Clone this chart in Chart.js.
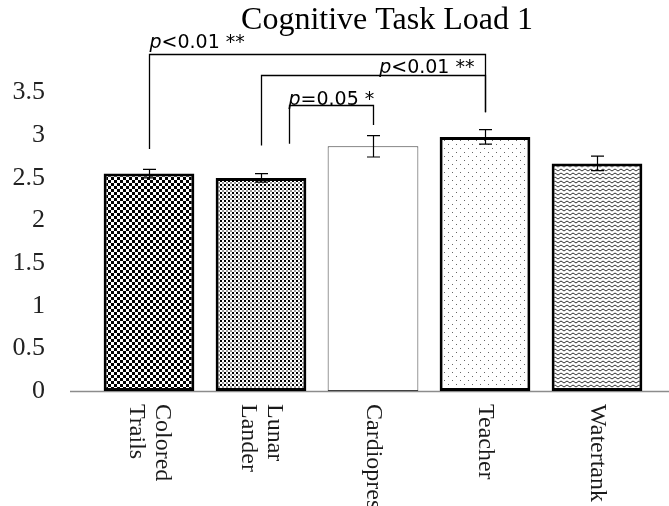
<!DOCTYPE html>
<html>
<head>
<meta charset="utf-8">
<script src="https://cdn.jsdelivr.net/npm/chart.js@4/dist/chart.umd.min.js"></script>
<style>
  html, body { margin: 0; padding: 0; background: #fff; }
  #wrap { width: 669px; height: 506px; position: relative; }
</style>
</head>
<body>
<div id="wrap"><canvas id="chart"></canvas></div>
<script>
// --- DATA ---
const categories = [['Colored', 'Trails'], ['Lunar', 'Lander'], 'Cardiopres', 'Teacher', 'Watertank'];
const means = [2.55, 2.50, 2.87, 2.98, 2.67];
const errors = [0.05, 0.05, 0.125, 0.085, 0.085];
const yTicks = [0, 0.5, 1, 1.5, 2, 2.5, 3, 3.5];

// significance brackets (category index, y value in data units)
const bracketFrom = [0, 1, 1.25];
const bracketTo = [3, 3, 2];
const bracketTop = [3.95, 3.71, 3.36];
const footFrom = [2.84, 2.88, 2.90];
const footTo = [3.27, 3.27, 3.12];
const bracketText = ['<0.01 **', '<0.01 **', '=0.05 *'];
// --- END DATA ---

// --- FILL PATTERNS ---
function makePattern(w, h, draw) {
    const c = document.createElement('canvas');
    c.width = w; c.height = h;
    const g = c.getContext('2d');
    g.fillStyle = '#fff';
    g.fillRect(0, 0, w, h);
    draw(g);
    return document.createElement('canvas').getContext('2d').createPattern(c, 'repeat');
}

const checker = makePattern(6, 6, g => {
    g.fillStyle = '#000';
    g.fillRect(0, 0, 3, 3);
    g.fillRect(3, 3, 3, 3);
});
const denseDots = makePattern(4, 4, g => {
    g.fillStyle = '#000';
    g.fillRect(0, 0, 2, 2);
    g.fillStyle = '#999';
    g.fillRect(2, 2, 2, 2);
});
const sparseDots = makePattern(8, 8, g => {
    g.fillStyle = '#666';
    g.fillRect(0, 0, 1, 1);
    g.fillRect(4, 4, 1, 1);
});
const zigzag = makePattern(6, 4, g => {
    g.strokeStyle = '#333';
    g.lineWidth = 1;
    g.beginPath();
    g.moveTo(0, 3); g.lineTo(3, 1); g.lineTo(6, 3);
    g.stroke();
});

// --- OVERLAY: axis line, error bars, brackets, labels, title ---
const overlay = {
    id: 'overlay',
    beforeDatasetsDraw(chart) {
        const { ctx, chartArea, scales: { y } } = chart;
        const y0 = Math.round(y.getPixelForValue(0)) + 0.5;
        ctx.save();
        ctx.strokeStyle = '#8c8c8c';
        ctx.lineWidth = 1.5;
        ctx.beginPath();
        ctx.moveTo(chartArea.left - 23, y0);
        ctx.lineTo(chart.width, y0);
        ctx.stroke();
        ctx.restore();
    },
    afterDatasetsDraw(chart) {
        const { ctx, scales: { x, y } } = chart;
        ctx.save();

        // error bars
        ctx.strokeStyle = '#000';
        ctx.lineWidth = 1.2;
        means.forEach((m, i) => {
            const cx = Math.round(x.getPixelForValue(i)) + 0.5;
            const top = y.getPixelForValue(m + errors[i]);
            const bot = y.getPixelForValue(m - errors[i]);
            ctx.beginPath();
            ctx.moveTo(cx, top); ctx.lineTo(cx, bot);
            ctx.moveTo(cx - 6.5, top); ctx.lineTo(cx + 6.5, top);
            ctx.moveTo(cx - 6.5, bot); ctx.lineTo(cx + 6.5, bot);
            ctx.stroke();
        });

        // brackets
        ctx.lineWidth = 1.3;
        bracketText.forEach((txt, i) => {
            const xl = Math.round(x.getPixelForValue(bracketFrom[i])) + 0.5;
            const xr = Math.round(x.getPixelForValue(bracketTo[i])) + 0.5;
            const yt = Math.round(y.getPixelForValue(bracketTop[i])) + 0.5;
            ctx.beginPath();
            ctx.moveTo(xl, y.getPixelForValue(footFrom[i]));
            ctx.lineTo(xl, yt);
            ctx.lineTo(xr, yt);
            ctx.lineTo(xr, y.getPixelForValue(footTo[i]));
            ctx.stroke();

            const italic = 'italic 19px "DejaVu Sans"';
            const normal = '19px "DejaVu Sans"';
            ctx.font = italic;
            const wp = ctx.measureText('p').width;
            ctx.font = normal;
            const wr = ctx.measureText(txt).width;
            let sx, by;
            if (i === 0) { sx = xl; by = yt - 7; }
            else if (i === 1) { sx = xr - 11 - wp - wr; by = yt - 3; }
            else { sx = xl - 1; by = yt - 1; }
            ctx.fillStyle = '#000';
            ctx.textAlign = 'left';
            ctx.textBaseline = 'alphabetic';
            ctx.font = italic;
            ctx.fillText('p', sx, by);
            ctx.font = normal;
            ctx.fillText(txt, sx + wp, by);
        });

        // rotated category labels (read top to bottom)
        ctx.fillStyle = '#1a1a1a';
        ctx.font = '24px "Liberation Serif"';
        ctx.textAlign = 'left';
        ctx.textBaseline = 'middle';
        const lh = 26;
        categories.forEach((c, i) => {
            const lines = Array.isArray(c) ? c : [c];
            const cx = x.getPixelForValue(i);
            ctx.save();
            ctx.translate(cx, y.getPixelForValue(0) + 13);
            ctx.rotate(Math.PI / 2);
            lines.forEach((ln, k) => {
                ctx.fillText(ln, 0, (k - (lines.length - 1) / 2) * lh);
            });
            ctx.restore();
        });

        // title
        ctx.fillStyle = '#000';
        ctx.font = '32px "Liberation Serif"';
        ctx.textAlign = 'center';
        ctx.textBaseline = 'alphabetic';
        ctx.fillText('Cognitive Task Load 1', 387, 29);

        ctx.restore();
    }
};

// --- CHART SETUP ---
const chart = new Chart(document.getElementById('chart'), {
    type: 'bar',
    data: {
        labels: categories,
        datasets: [{
            data: means,
            backgroundColor: [checker, denseDots, '#fff', sparseDots, zigzag],
            borderColor: ['#000', '#000', '#404040', '#000', '#000'],
            borderWidth: [3, 3, 1, 3, 3],
            borderSkipped: false,
            barPercentage: 0.81,
            categoryPercentage: 1
        }]
    },
    options: {
        responsive: true,
        maintainAspectRatio: false,
        animation: false,
        layout: { padding: { top: 50, left: 13, right: 16, bottom: 115 } },
        plugins: {
            legend: { display: false },
            title: { display: false },
            tooltip: { enabled: false }
        },
        scales: {
            x: {
                grid: { display: false, drawTicks: false },
                border: { display: false },
                ticks: { display: false },
                afterFit: s => { s.height = 0; }
            },
            y: {
                min: 0,
                max: 4,
                grid: { display: false, drawTicks: false },
                border: { display: false },
                afterBuildTicks: s => { s.ticks = yTicks.map(v => ({ value: v })); },
                afterFit: s => { s.width = 80; s.paddingTop = 0; s.paddingBottom = 0; },
                ticks: {
                    padding: 48,
                    color: '#222',
                    font: { family: 'Liberation Serif', size: 26 },
                    callback: v => String(v)
                }
            }
        }
    },
    plugins: [overlay]
});
</script>
</body>
</html>
